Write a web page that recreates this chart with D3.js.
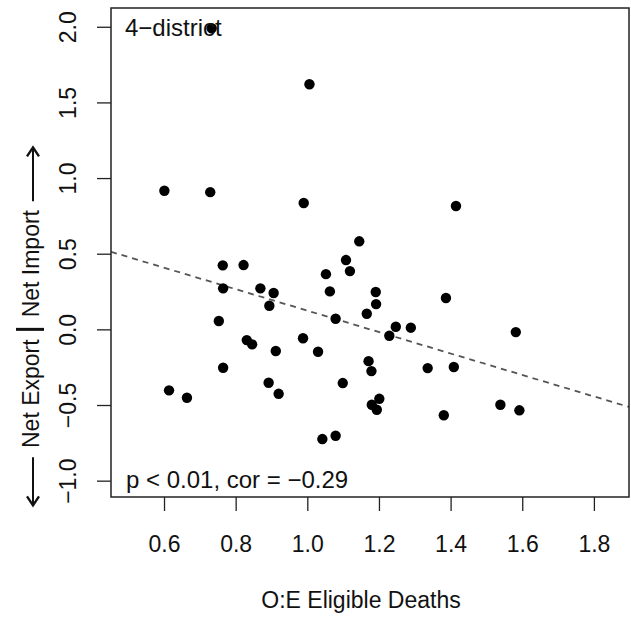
<!DOCTYPE html>
<html>
<head>
<meta charset="utf-8">
<script src="https://cdn.jsdelivr.net/npm/d3@7"></script>
<style>
  body { margin: 0; background: #fff; }
  text { font-family: "Liberation Sans", Arial, Helvetica, sans-serif; fill: #111; }
</style>
</head>
<body>
<div id="chart"></div>
<script>
// O:E eligible deaths vs net flow, one value per district
const oeDeaths = [
  0.601, 0.729, 0.990, 0.764, 0.822, 1.052, 0.765, 0.869, 0.906, 1.063,
  0.894, 1.079, 0.753, 1.415, 1.145, 1.108, 1.119, 1.191, 1.192, 1.166,
  1.387, 0.831, 0.846, 0.912, 0.988, 1.030, 0.765, 0.892, 0.920, 0.614,
  0.664, 1.042, 1.079, 1.099, 1.247, 1.289, 1.229, 1.582, 1.171, 1.179,
  1.336, 1.409, 1.201, 1.180, 1.194, 1.381, 1.539, 1.592, 0.733, 1.006
]
const netFlow = [
  0.916, 0.907, 0.835, 0.423, 0.425, 0.365, 0.271, 0.271, 0.240, 0.251,
  0.156, 0.070, 0.055, 0.815, 0.582, 0.458, 0.385, 0.247, 0.167, 0.103,
  0.207, -0.071, -0.099, -0.143, -0.059, -0.148, -0.254, -0.353, -0.426, -0.403,
  -0.452, -0.725, -0.703, -0.355, 0.017, 0.011, -0.042, -0.018, -0.210, -0.276,
  -0.256, -0.249, -0.459, -0.498, -0.531, -0.568, -0.498, -0.535, 1.990, 1.620
]
const xTicks = [0.6, 0.8, 1.0, 1.2, 1.4, 1.6, 1.8]
const yTicks = [-1.0, -0.5, 0.0, 0.5, 1.0, 1.5, 2.0]
const fitIntercept = 0.833
const fitSlope = -0.709
const panelLabel = '4\u2212district'
const statLabel = 'p < 0.01, cor = \u22120.29'

function draw () {

    const dataset = oeDeaths.map((x, i) => ({ x: x, y: netFlow[i] }))

    const dimensions = {
        width: 631,
        height: 619,
        margin: { left: 111, right: 2, top: 8, bottom: 122 }
    }
    dimensions.ctrWidth = dimensions.width - dimensions.margin.left - dimensions.margin.right
    dimensions.ctrHeight = dimensions.height - dimensions.margin.top - dimensions.margin.bottom

    const xAccessor = d => d.x
    const yAccessor = d => d.y

    const xScale = d3.scaleLinear().domain([0.452, 1.898]).range([0, dimensions.ctrWidth])
    const yScale = d3.scaleLinear().domain([-1.108, 2.124]).range([dimensions.ctrHeight, 0])

    const svg = d3.select('#chart')
        .append('svg')
        .attr('width', dimensions.width)
        .attr('height', dimensions.height)
        .style('display', 'block')

    const ctr = svg.append('g')
        .attr('transform', `translate(${dimensions.margin.left},${dimensions.margin.top})`)

    svg.append('defs').append('clipPath').attr('id', 'plotClip')
        .append('rect')
        .attr('width', dimensions.ctrWidth)
        .attr('height', dimensions.ctrHeight)

    // axes, R style: ticks outside, labels below / rotated on the left
    const xAxis = d3.axisBottom(xScale).tickValues(xTicks).tickFormat(d3.format('.1f')).tickSize(14).tickPadding(24)
    const xAxisGroup = ctr.append('g')
        .attr('transform', `translate(0,${dimensions.ctrHeight})`)
        .call(xAxis)
    xAxisGroup.select('.domain').remove()
    xAxisGroup.selectAll('line').attr('stroke', '#222').attr('stroke-width', 1.3)
    xAxisGroup.selectAll('text')
        .attr('dy', null)
        .attr('y', 55)
        .style('font-size', '23px')
        .style('font-family', '"Liberation Sans", Arial, sans-serif')
        .attr('fill', '#111')

    const yAxis = d3.axisLeft(yScale).tickValues(yTicks).tickFormat(d3.format('.1f')).tickSize(14)
    const yAxisGroup = ctr.append('g').call(yAxis)
    yAxisGroup.select('.domain').remove()
    yAxisGroup.selectAll('line').attr('stroke', '#222').attr('stroke-width', 1.3)
    yAxisGroup.selectAll('text')
        .attr('x', null).attr('dy', null)
        .attr('text-anchor', 'middle')
        .attr('transform', 'translate(-35,0) rotate(-90)')
        .style('font-size', '23px')
        .style('font-family', '"Liberation Sans", Arial, sans-serif')
        .attr('fill', '#111')

    // regression line
    const x0 = xScale.domain()[0], x1 = xScale.domain()[1]
    ctr.append('g').attr('clip-path', 'url(#plotClip)')
        .append('line')
        .attr('x1', xScale(x0)).attr('y1', yScale(fitIntercept + fitSlope * x0))
        .attr('x2', xScale(x1)).attr('y2', yScale(fitIntercept + fitSlope * x1))
        .attr('stroke', '#555')
        .attr('stroke-width', 1.8)
        .attr('stroke-dasharray', '6,5')

    ctr.append('g')
        .selectAll('circle')
        .data(dataset)
        .join('circle')
        .attr('cx', d => xScale(xAccessor(d)))
        .attr('cy', d => yScale(yAccessor(d)))
        .attr('r', 5.2)
        .attr('fill', '#000')

    ctr.append('rect')
        .attr('width', dimensions.ctrWidth)
        .attr('height', dimensions.ctrHeight)
        .attr('fill', 'none')
        .attr('stroke', '#222')
        .attr('stroke-width', 1.5)

    ctr.append('text').attr('x', 14).attr('y', 28)
        .style('font-size', '24px')
        .text(panelLabel)
    ctr.append('text').attr('x', 15).attr('y', dimensions.ctrHeight - 9)
        .style('font-size', '24px')
        .text(statLabel)

    // x title
    svg.append('text')
        .attr('x', 361)
        .attr('y', 608)
        .attr('text-anchor', 'middle')
        .style('font-size', '23px')
        .text('O:E Eligible Deaths')

    // y title: <- Net Export | Net Import ->
    const yTitle = svg.append('g')
        .attr('transform', `translate(39,${dimensions.margin.top + yScale(0)}) rotate(-90)`)
    yTitle.append('text').attr('x', 12).attr('text-anchor', 'start')
        .style('font-size', '23px').text('Net Import')
    yTitle.append('text').attr('x', -10).attr('text-anchor', 'end')
        .style('font-size', '23px').text('Net Export')
    yTitle.append('line')
        .attr('x1', 0).attr('x2', 0).attr('y1', -23).attr('y2', 5)
        .attr('stroke', '#111').attr('stroke-width', 3)

    const arrows = [[128, 182], [-128, -176]]
    arrows.forEach(([a, b]) => {
        const dir = Math.sign(b - a)
        yTitle.append('line')
            .attr('x1', a).attr('x2', b).attr('y1', -6).attr('y2', -6)
            .attr('stroke', '#111').attr('stroke-width', 2)
        yTitle.append('path')
            .attr('d', `M${b - dir * 9},-12 L${b},-6 L${b - dir * 9},0`)
            .attr('fill', 'none').attr('stroke', '#111').attr('stroke-width', 2.4)
    })
}

draw()
</script>
</body>
</html>
